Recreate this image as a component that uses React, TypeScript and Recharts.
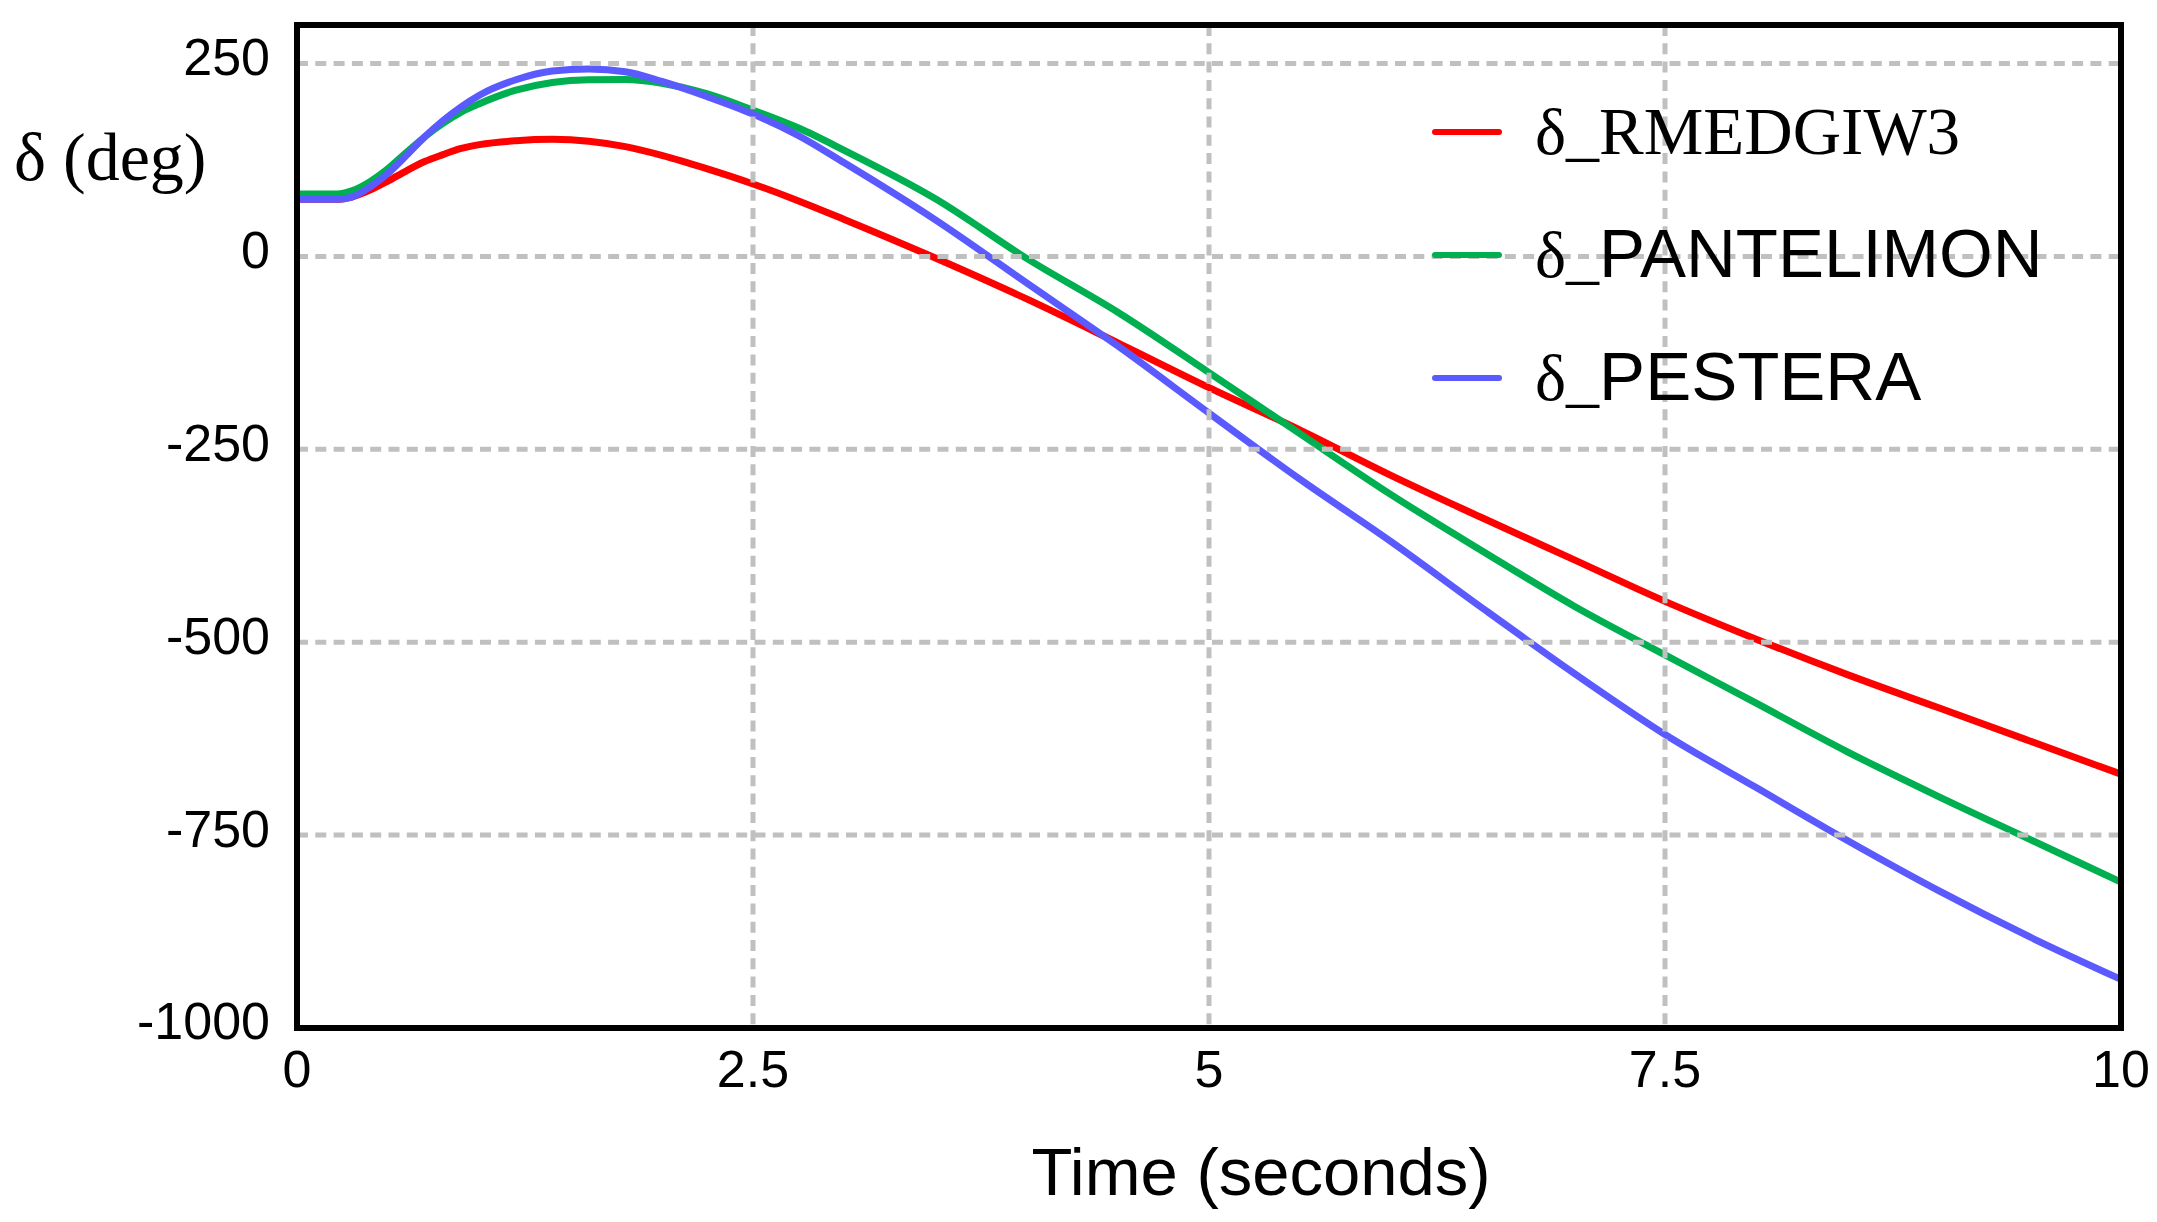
import {
  CartesianGrid,
  Legend,
  Line,
  LineChart,
  ReferenceArea,
  XAxis,
  YAxis,
} from "recharts";

// Time axis (seconds) shared by the three rotor-angle traces
const TIME = [
  0, 0.22, 0.3, 0.4, 0.5, 0.6, 0.7, 0.8, 0.9, 1.0, 1.2, 1.4, 1.6, 1.8, 2.0, 2.25, 2.5, 2.75, 3.0, 3.5, 4.0, 4.5,
  5.0, 5.5, 6.0, 6.5, 7.0, 7.5, 8.0, 8.5, 9.0, 9.5, 10,
];
const RMEDGIW3 = [
  74, 74, 77, 86, 98, 111, 123, 132, 140, 145, 150, 151.8, 149.4, 142.3, 131, 113.5, 94, 72, 48, -2, -55, -112,
  -170, -225, -284, -339, -393, -447, -496, -542, -585, -628, -671,
];
const PANTELIMON = [
  81, 81, 85, 97, 114, 135, 155, 172.5, 187, 198, 215.5, 225.5, 229, 229.3, 224.5, 210.6, 189.6, 166.4, 137.6, 74.8,
  -2.5, -72.3, -150.5, -230, -309, -382, -453, -516.5, -579, -642, -700, -755.5, -811,
];
const PESTERA = [
  74, 74, 77, 90, 108, 131, 155, 176, 194, 209, 229, 240.4, 243, 239.4, 226.8, 207, 184.5, 156.5, 121.4, 47.4,
  -34.3, -116, -203, -289, -370, -456, -540, -619.5, -688.4, -757, -822, -882, -937,
];

const X_TICKS = [0, 2.5, 5, 7.5, 10];
const Y_TICKS = [-1000, -750, -500, -250, 0, 250];

const SERIES = [
  { key: "RMEDGIW3", color: "#ff0000", serifName: true },
  { key: "PANTELIMON", color: "#00b050", serifName: false },
  { key: "PESTERA", color: "#5a5aff", serifName: false },
];

const SANS = "'Liberation Sans', Arial, sans-serif";
const SERIF = "'Liberation Serif', 'Times New Roman', serif";

const data = TIME.map((t, i) => ({
  t,
  RMEDGIW3: RMEDGIW3[i],
  PANTELIMON: PANTELIMON[i],
  PESTERA: PESTERA[i],
}));

function LegendBox() {
  return (
    <svg width={720} height={340} style={{ display: "block" }}>
      {SERIES.map((s, i) => {
        const y = 44 + i * 123;
        return (
          <g key={s.key}>
            <line x1={27} x2={91} y1={y} y2={y} stroke={s.color} strokeWidth={6} strokeLinecap="round" />
            <text x={127} y={y + 22} fill="#000">
              <tspan fontFamily={SERIF} fontSize={66}>δ_</tspan>
              <tspan fontFamily={s.serifName ? SERIF : SANS} fontSize={s.serifName ? 67 : 69}>
                {s.key}
              </tspan>
            </text>
          </g>
        );
      })}
    </svg>
  );
}

export default function App() {
  return (
    <div style={{ width: 2141, height: 1206 }}>
      <LineChart width={2141} height={1206} data={data} margin={{ top: 17, right: 28, bottom: 0, left: 0 }}>
        <XAxis
          dataKey="t"
          type="number"
          domain={[0, 10]}
          ticks={X_TICKS}
          axisLine={false}
          tickLine={false}
          tickSize={0}
          tickMargin={22}
          height={186}
          interval={0}
          tick={{ fontSize: 52, fill: "#000", fontFamily: SANS }}
          label={{
            content: () => (
              <text x={1253} y={1187} textAnchor="middle" fontSize={67} fontFamily={SANS} fill="#000">
                Time (seconds)
              </text>
            ),
          }}
        />
        <YAxis
          type="number"
          domain={[-1000, 300]}
          ticks={Y_TICKS}
          axisLine={false}
          tickLine={false}
          tickSize={0}
          tickMargin={27}
          width={289}
          interval={0}
          tick={{ fontSize: 52, fill: "#000", fontFamily: SANS, dy: -7 }}
          label={{
            content: () => (
              <text x={6} y={172} fontSize={68} fontFamily={SERIF} fill="#000">
                δ (deg)
              </text>
            ),
          }}
        />
        {SERIES.map((s) => (
          <Line
            key={s.key}
            type="monotone"
            dataKey={s.key}
            stroke={s.color}
            strokeWidth={7}
            dot={false}
            activeDot={false}
            isAnimationActive={false}
          />
        ))}
        {/* grid sits above the traces, as in the original plot */}
        <CartesianGrid stroke="#c0c0c0" strokeWidth={5} strokeDasharray="11 7.3" zIndex={450} />
        <ReferenceArea
          x1={0}
          x2={10}
          y1={-1000}
          y2={300}
          fill="none"
          stroke="#000"
          strokeWidth={6}
          ifOverflow="visible"
          zIndex={460}
        />
        <Legend
          layout="horizontal"
          verticalAlign="middle"
          align="center"
          content={() => <LegendBox />}
          wrapperStyle={{ left: 1400, top: 80, width: 720, height: 340 }}
        />
      </LineChart>
    </div>
  );
}
